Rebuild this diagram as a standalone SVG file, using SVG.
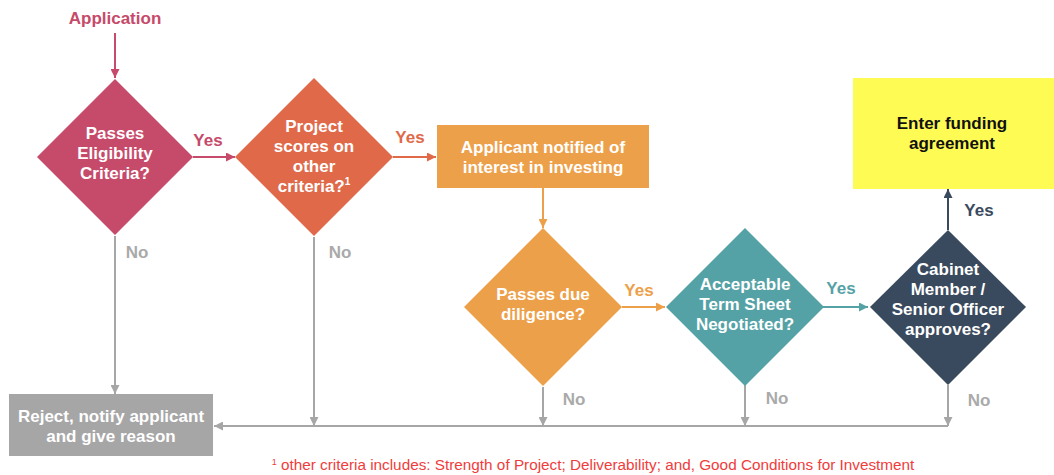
<svg xmlns="http://www.w3.org/2000/svg" width="1054" height="475" viewBox="0 0 1054 475">
<style>
text{font-family:"Liberation Sans",Arial,sans-serif;font-weight:bold;text-anchor:middle}
.w{fill:#ffffff;font-size:17px}
.lbl{font-size:17px}
.ln{fill:none;stroke-width:2}
.g{stroke:#a6a6a6}
text.fn{font-weight:normal;font-size:15.3px;fill:#f03c3c}
</style>
<defs>
<marker id="mC" viewBox="0 0 10 10" refX="10" refY="5" markerUnits="userSpaceOnUse" markerWidth="9" markerHeight="9" orient="auto"><path d="M0,0L10,5L0,10z" fill="#c64a6a"/></marker>
<marker id="mR" viewBox="0 0 10 10" refX="10" refY="5" markerUnits="userSpaceOnUse" markerWidth="9" markerHeight="9" orient="auto"><path d="M0,0L10,5L0,10z" fill="#e0694a"/></marker>
<marker id="mO" viewBox="0 0 10 10" refX="10" refY="5" markerUnits="userSpaceOnUse" markerWidth="9" markerHeight="9" orient="auto"><path d="M0,0L10,5L0,10z" fill="#eda04a"/></marker>
<marker id="mT" viewBox="0 0 10 10" refX="10" refY="5" markerUnits="userSpaceOnUse" markerWidth="9" markerHeight="9" orient="auto"><path d="M0,0L10,5L0,10z" fill="#55a2a6"/></marker>
<marker id="mN" viewBox="0 0 10 10" refX="10" refY="5" markerUnits="userSpaceOnUse" markerWidth="9" markerHeight="9" orient="auto"><path d="M0,0L10,5L0,10z" fill="#3a4a5e"/></marker>
<marker id="mG" viewBox="0 0 10 10" refX="10" refY="5" markerUnits="userSpaceOnUse" markerWidth="9" markerHeight="9" orient="auto"><path d="M0,0L10,5L0,10z" fill="#a6a6a6"/></marker>
</defs>
<rect width="1054" height="475" fill="#ffffff"/>

<g id="connectors">
<path class="ln" stroke="#c64a6a" d="M115,33V78" marker-end="url(#mC)"/>
<path class="ln" stroke="#c64a6a" d="M193,157H235" marker-end="url(#mC)"/>
<path class="ln" stroke="#e0694a" d="M393,157H436" marker-end="url(#mR)"/>
<path class="ln" stroke="#eda04a" d="M543,188V228" marker-end="url(#mO)"/>
<path class="ln" stroke="#eda04a" d="M622,307H665" marker-end="url(#mO)"/>
<path class="ln" stroke="#55a2a6" d="M823,307H868" marker-end="url(#mT)"/>
<path class="ln" stroke="#3a4a5e" d="M948,230V189" marker-end="url(#mN)"/>
<path class="ln g" d="M115,236V394" marker-end="url(#mG)"/>
<path class="ln g" d="M314,237V426" marker-end="url(#mG)"/>
<path class="ln g" d="M543,387V426" marker-end="url(#mG)"/>
<path class="ln g" d="M745,385V426" marker-end="url(#mG)"/>
<path class="ln g" d="M948,385V426" marker-end="url(#mG)"/>
<path class="ln g" d="M948,426H214" marker-end="url(#mG)"/>
<text class="lbl" x="208" y="146" fill="#c64a6a">Yes</text>
<text class="lbl" x="410" y="143" fill="#e0694a">Yes</text>
<text class="lbl" x="639" y="296" fill="#eda04a">Yes</text>
<text class="lbl" x="841" y="294" fill="#55a2a6">Yes</text>
<text class="lbl" x="979" y="216" fill="#3a4a5e">Yes</text>
<text class="lbl" x="137" y="258" fill="#aaaaaa">No</text>
<text class="lbl" x="340" y="258" fill="#aaaaaa">No</text>
<text class="lbl" x="574" y="405" fill="#aaaaaa">No</text>
<text class="lbl" x="777" y="404" fill="#aaaaaa">No</text>
<text class="lbl" x="979" y="406" fill="#aaaaaa">No</text>
</g>

<g id="application">
<text x="115" y="24" font-size="17" fill="#c64a6a">Application</text>
</g>

<g id="eligibility">
<polygon points="115,79 193,157 115,235 37,157" fill="#c64a6a"/>
<text class="w" x="115" y="139">Passes</text>
<text class="w" x="115" y="159">Eligibility</text>
<text class="w" x="115" y="179">Criteria?</text>
</g>

<g id="scores">
<polygon points="314,78 393,157 314,236 235,157" fill="#e0694a"/>
<text class="w" x="314" y="132">Project</text>
<text class="w" x="314" y="152">scores on</text>
<text class="w" x="314" y="172">other</text>
<text class="w" x="314" y="192">criteria?<tspan font-size="10" dy="-7">1</tspan></text>
</g>

<g id="notified">
<rect x="437" y="125" width="212" height="63" fill="#eda04a"/>
<text class="w" x="543" y="153">Applicant notified of</text>
<text class="w" x="543" y="173">interest in investing</text>
</g>

<g id="diligence">
<polygon points="543,228 622,307 543,386 464,307" fill="#eda04a"/>
<text class="w" x="543" y="300">Passes due</text>
<text class="w" x="543" y="320">diligence?</text>
</g>

<g id="termsheet">
<polygon points="745,228 824,307 745,386 666,307" fill="#55a2a6"/>
<text class="w" x="745" y="290">Acceptable</text>
<text class="w" x="745" y="310">Term Sheet</text>
<text class="w" x="745" y="330">Negotiated?</text>
</g>

<g id="cabinet">
<polygon points="948,230 1026,307 948,385 870,307" fill="#3a4a5e"/>
<text class="w" x="948" y="275">Cabinet</text>
<text class="w" x="948" y="295">Member /</text>
<text class="w" x="948" y="315">Senior Officer</text>
<text class="w" x="948" y="335">approves?</text>
</g>

<g id="funding">
<rect x="853" y="78" width="201" height="111" fill="#fefb55"/>
<text x="952" y="129" font-size="17" fill="#111111">Enter funding</text>
<text x="952" y="149" font-size="17" fill="#111111">agreement</text>
</g>

<g id="reject">
<rect x="9" y="394" width="204" height="62" fill="#a6a6a6"/>
<text class="w" x="111" y="422">Reject, notify applicant</text>
<text class="w" x="111" y="442">and give reason</text>
</g>

<g id="footnote">
<text class="fn" x="593" y="470"><tspan font-size="9" dy="-5">1</tspan><tspan dy="5"> other criteria includes: Strength of Project; Deliverability; and, Good Conditions for Investment</tspan></text>
</g>
</svg>
